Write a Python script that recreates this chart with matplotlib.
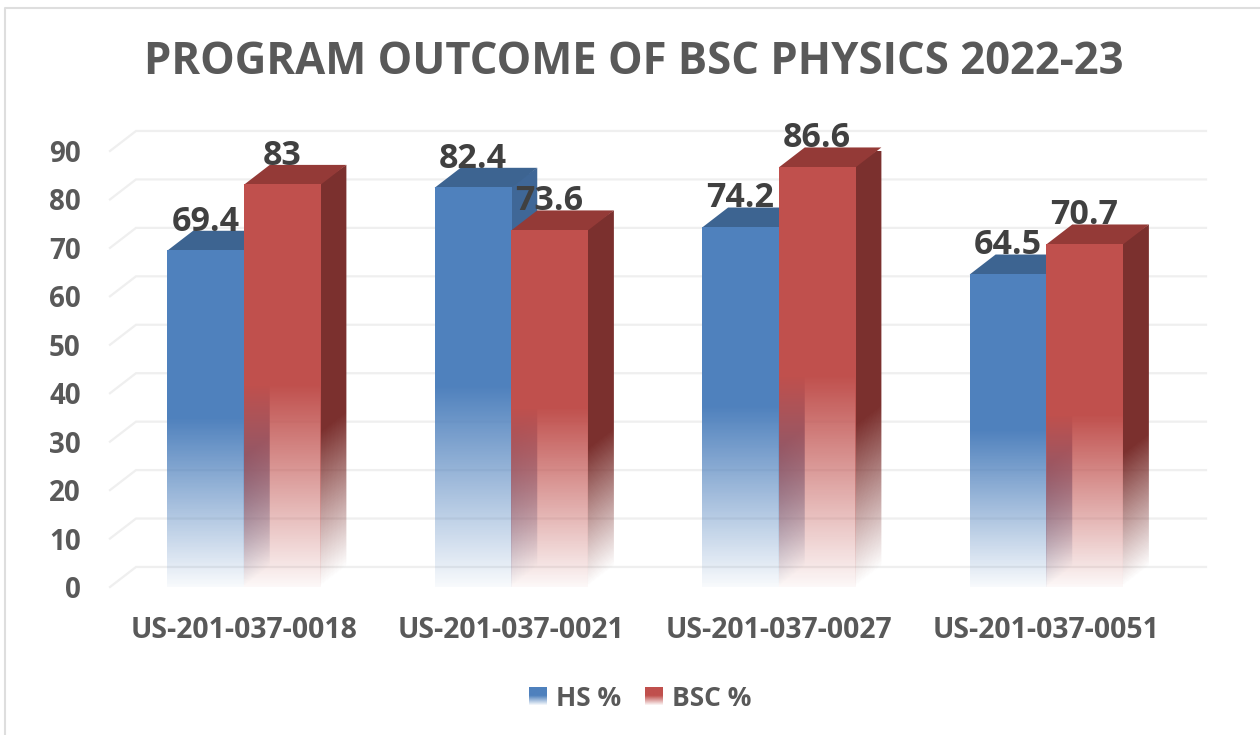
import matplotlib
matplotlib.use('Agg')
import matplotlib.pyplot as plt
from matplotlib.colors import to_rgb
from matplotlib.lines import Line2D
from matplotlib.patches import Polygon
from matplotlib.transforms import Affine2D
import numpy as np

plt.rcParams['font.family'] = ['Open Sans', 'DejaVu Sans']

# Data
students = ['US-201-037-0018', 'US-201-037-0021', 'US-201-037-0027', 'US-201-037-0051']
hs_pct = [69.4, 82.4, 74.2, 64.5]
bsc_pct = [83, 73.6, 86.6, 70.7]
y_ticks = [0, 10, 20, 30, 40, 50, 60, 70, 80, 90]

W, H = 1260, 735
BAR_W = 0.2865
DEPTH_X = 26 / 267.5
DEPTH_Y = 20 / 4.84

blue = dict(front='#4f81bd', top='#3d6491', side='#3f6797')
red = dict(front='#c0504d', top='#943a37', side='#7b302e')


def gradient(color, start, low):
    # one pixel wide image, opacity rising from bar foot to start, then solid
    t = np.linspace(0, 1, 400)
    img = np.ones((400, 1, 4))
    img[:, :, :3] = to_rgb(color)
    img[:, 0, 3] = np.clip(low + (1 - low) * t / start, 0, 1)
    return img


def draw_bar(ax, x, v, col):
    # side face: gradient image sheared back along the depth direction
    slope = DEPTH_Y / DEPTH_X
    x1 = x + BAR_W
    # image is bigger than the face and clipped, the top face hides the overlap
    side = ax.imshow(gradient(col['side'], 0.38, 0.0), origin='lower', aspect='auto',
                     extent=(x1 - DEPTH_X / 4, x1 + DEPTH_X * 1.25, 0, v + 1),
                     interpolation='nearest', zorder=3)
    side.set_transform(Affine2D.from_values(1, slope, 0, 1, 0, -slope * x1) + ax.transData)
    side.set_clip_path(Polygon([(x1, 0), (x1 + DEPTH_X, DEPTH_Y), (x1 + DEPTH_X, v + DEPTH_Y), (x1, v + 0.5)],
                               transform=ax.transData))
    # top face
    ax.fill([x, x1, x1 + DEPTH_X, x + DEPTH_X],
            [v, v, v + DEPTH_Y, v + DEPTH_Y], color=col['top'], lw=0, clip_on=False, zorder=3)
    # front face
    ax.imshow(gradient(col['front'], 0.5, 0.04), origin='lower', aspect='auto',
              extent=(x, x1, 0, v), interpolation='nearest', clip_on=False, zorder=3)


fig = plt.figure(figsize=(W / 100, H / 100), dpi=100)
ax = fig.add_axes([110 / W, 1 - 587 / H, 1070 / W, 436 / H])
for s in ax.spines.values():
    s.set_visible(False)

# back wall and floor lines
grid_c = '#efefef'
for t in y_ticks:
    ax.plot([0, DEPTH_X, 4 + DEPTH_X], [t, t + DEPTH_Y, t + DEPTH_Y],
            color=grid_c, lw=1.6, clip_on=False, zorder=1, solid_joinstyle='miter')

for i in range(len(students)):
    left = i + 0.5 - BAR_W
    draw_bar(ax, left, hs_pct[i], blue)
    draw_bar(ax, left + BAR_W, bsc_pct[i], red)

ax.set_xlim(0, 4)
ax.set_ylim(0, 90)

for i in range(len(students)):
    for v, xc in ((hs_pct[i], i + 0.5 - BAR_W / 2), (bsc_pct[i], i + 0.5 + BAR_W / 2)):
        ax.annotate(f'{v:g}', xy=(xc, v), xytext=(0, 21), textcoords='offset points',
                    ha='center', va='center', fontsize=24.5, fontweight='bold',
                    color='#404040', zorder=5, annotation_clip=False)

ax.set_yticks(y_ticks)
ax.set_xticks(np.arange(4) + 0.5)
ax.set_xticklabels(students)
ax.tick_params(axis='both', length=0, labelcolor='#595959')
ax.tick_params(axis='y', pad=21, labelsize=20)
ax.tick_params(axis='x', pad=21, labelsize=20.4)
for lab in ax.get_xticklabels() + ax.get_yticklabels():
    lab.set_fontweight('bold')

fig.text(634 / W, 1 - 62 / H, 'PROGRAM OUTCOME OF BSC PHYSICS 2022-23', ha='center', va='center',
         fontsize=31.4, fontweight='bold', color='#595959')

# legend swatches with the same fade as the bars
for px, col, lab, tx in ((529, blue, 'HS %', 556), (645, red, 'BSC %', 672)):
    sw = fig.add_axes([px / W, 1 - 705 / H, 18 / W, 18 / H])
    sw.imshow(gradient(col['front'], 0.5, 0.04), origin='lower', aspect='auto')
    sw.axis('off')
    fig.text(tx / W, 1 - 698 / H, lab, ha='left', va='center', fontsize=19,
             fontweight='bold', color='#595959')

# chart frame
frame = '#dedede'
fig.add_artist(Line2D([5 / W, 5 / W, 1], [0, 1 - 8 / H, 1 - 8 / H], color=frame, lw=1.5))

fig.savefig('out.png', dpi=100)
